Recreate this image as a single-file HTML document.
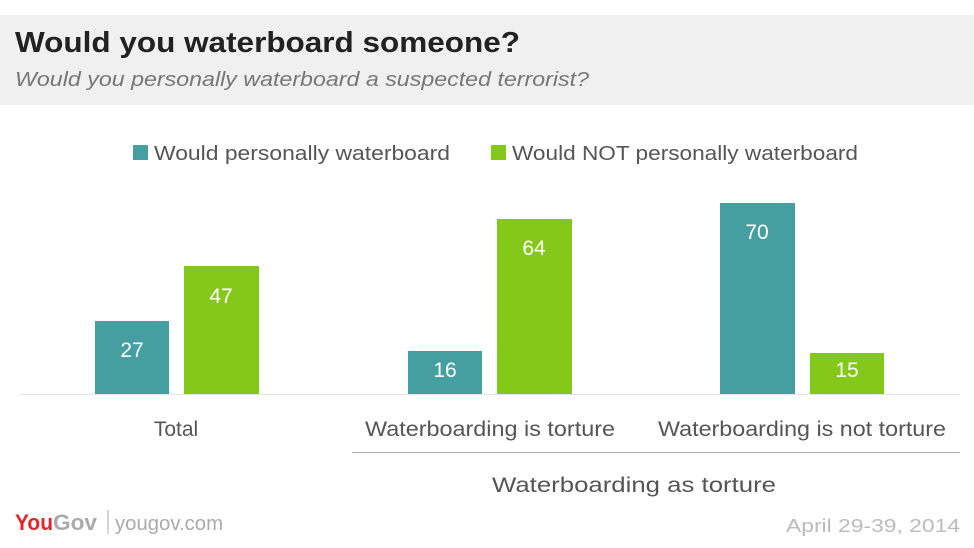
<!DOCTYPE html>
<html><head><meta charset="utf-8"><style>
html,body{margin:0;padding:0;background:#fff;}
svg{display:block;font-family:"Liberation Sans",sans-serif;}
</style></head><body>
<svg width="974" height="548" viewBox="0 0 974 548">
<rect x="0" y="15" width="974" height="90" fill="#f0f0f0"/>
<text x="15" y="52" font-size="29" font-weight="bold" fill="#222" textLength="505" lengthAdjust="spacingAndGlyphs">Would you waterboard someone?</text>
<text x="15" y="86" font-size="20" font-style="italic" fill="#777" textLength="574" lengthAdjust="spacingAndGlyphs">Would you personally waterboard a suspected terrorist?</text>
<rect x="133" y="145" width="15" height="15" fill="#459e9f"/>
<text x="154" y="160" font-size="20" fill="#555" textLength="296" lengthAdjust="spacingAndGlyphs">Would personally waterboard</text>
<rect x="491" y="145" width="15" height="15" fill="#84c91a"/>
<text x="512" y="160" font-size="20" fill="#555" textLength="346" lengthAdjust="spacingAndGlyphs">Would NOT personally waterboard</text>
<line x1="20" y1="394.5" x2="960" y2="394.5" stroke="#e6e6e6"/>
<g font-size="21" fill="#fff" text-anchor="middle">
<rect x="95" y="321" width="74" height="73" fill="#459e9f"/><text x="132" y="357">27</text>
<rect x="184" y="266" width="75" height="128" fill="#84c91a"/><text x="221" y="303">47</text>
<rect x="408" y="351" width="74" height="43" fill="#459e9f"/><text x="445" y="377">16</text>
<rect x="497" y="219" width="75" height="175" fill="#84c91a"/><text x="534" y="255">64</text>
<rect x="720" y="203" width="75" height="191" fill="#459e9f"/><text x="757" y="239">70</text>
<rect x="810" y="353" width="74" height="41" fill="#84c91a"/><text x="847" y="377">15</text>
</g>
<g font-size="21" fill="#555" text-anchor="middle">
<text x="176" y="436">Total</text>
<text x="490" y="436" textLength="250" lengthAdjust="spacingAndGlyphs">Waterboarding is torture</text>
<text x="802" y="436" textLength="288" lengthAdjust="spacingAndGlyphs">Waterboarding is not torture</text>
<text x="634" y="492" textLength="284" lengthAdjust="spacingAndGlyphs">Waterboarding  as torture</text>
</g>
<line x1="352" y1="452.5" x2="960" y2="452.5" stroke="#aaa"/>
<text x="15" y="530" font-size="22" font-weight="bold" fill="#e0262b" textLength="38" lengthAdjust="spacingAndGlyphs">You</text>
<text x="53" y="530" font-size="22" font-weight="bold" fill="#aaa" textLength="44" lengthAdjust="spacingAndGlyphs">Gov</text>
<line x1="108" y1="510" x2="108" y2="534" stroke="#aaa"/>
<text x="115" y="530" font-size="20" fill="#aaa" textLength="108" lengthAdjust="spacingAndGlyphs">yougov.com</text>
<text x="960" y="532" font-size="18" fill="#bbb" text-anchor="end" textLength="174" lengthAdjust="spacingAndGlyphs">April 29-39, 2014</text>
</svg>
</body></html>
